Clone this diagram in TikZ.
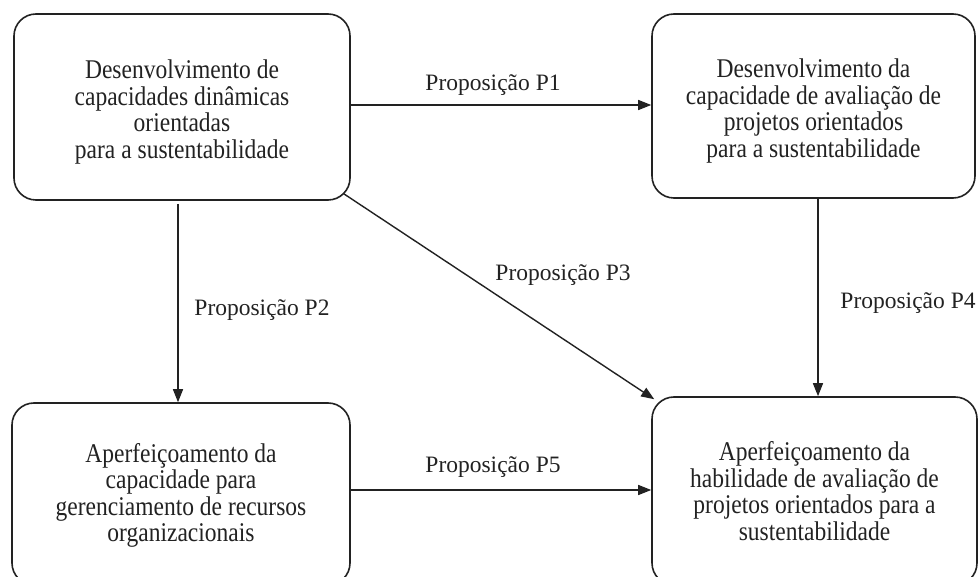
\documentclass[tikz,border=0pt]{standalone}
\usepackage{fontspec}
\setmainfont{Liberation Serif}
\usetikzlibrary{arrows.meta,calc}
\definecolor{ink}{HTML}{222222}
\newcommand{\bxtext}[2]{\raisebox{#1}[\height][\depth]{\scalebox{1}[1.15]{\begin{tabular}{@{}c@{}}#2\end{tabular}}}}
\begin{document}
\begin{tikzpicture}[x=1pt,y=-1pt,
  box/.style={draw=ink, line width=1.6pt, rounded corners=22pt, align=center,
    inner sep=0pt, text=ink, font=\fontsize{23.5}{22.4}\selectfont},
  lbl/.style={text=ink, inner sep=0pt, font=\fontsize{23.5}{27.5}\selectfont},
  arr/.style={draw=ink, line width=1.4pt, -{Triangle[length=13pt,width=10pt]}}]
\useasboundingbox (0,0) rectangle (978,577);
\fill[white] (0,0) rectangle (978,577);
\node[box, minimum width=336pt, minimum height=186pt] (tl) at (182,107)
  {\bxtext{-6pt}{Desenvolvimento de\\capacidades dinâmicas\\orientadas\\para a sustentabilidade}};
\node[box, minimum width=323pt, minimum height=184pt] (tr) at (813.5,106)
  {\bxtext{-6pt}{Desenvolvimento da\\capacidade de avaliação de\\projetos orientados\\para a sustentabilidade}};
\node[box, minimum width=338pt, minimum height=182pt] (bl) at (181,494)
  {\bxtext{-2pt}{Aperfeiçoamento da\\capacidade para\\gerenciamento de recursos\\organizacionais}};
\node[box, minimum width=325pt, minimum height=188pt] (br) at (814.5,491)
  {\bxtext{-4pt}{Aperfeiçoamento da\\habilidade de avaliação de\\projetos orientados para a\\sustentabilidade}};
% connectors
\draw[arr] ([yshift=2pt]tl.east) -- ([yshift=2pt]tl.east -| tr.west);
\draw[arr, shorten <=3pt] ([xshift=-4pt]tl.south) -- ([xshift=-4pt]tl.south |- bl.north);
\draw[arr] ($(tl.south east)+(-7,-7)$) -- ($(br.north west)+(3,3)$);
\draw[arr] ([xshift=4.5pt]tr.south) -- ([xshift=4.5pt]tr.south |- br.north);
\draw[arr] ([yshift=4pt]bl.east) -- ([yshift=4pt]bl.east -| br.west);
% labels
\node[lbl] (l1) at (493,85) {Proposição P1};
\node[lbl] (l2) at (262,310) {Proposição P2};
\node[lbl] (l3) at (563,275) {Proposição P3};
\node[lbl] (l4) at (908,303) {Proposição P4};
\node[lbl] (l5) at (493,467) {Proposição P5};
\end{tikzpicture}
\end{document}
